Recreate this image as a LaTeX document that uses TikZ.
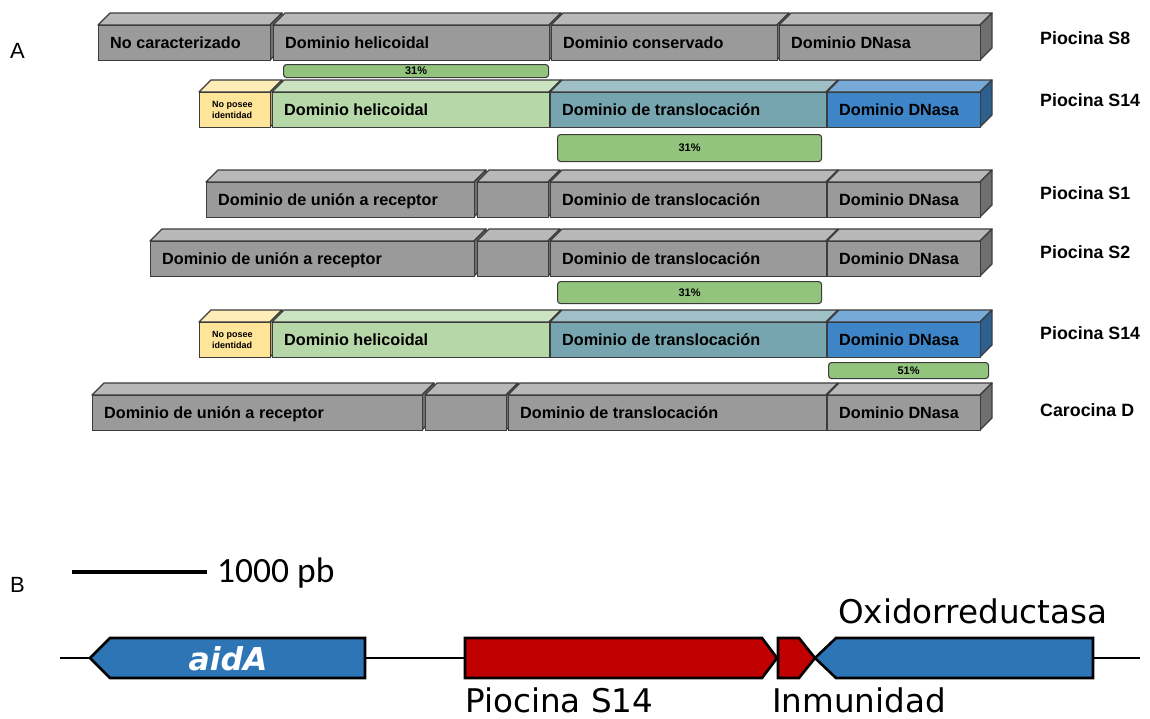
\documentclass[tikz,border=0pt]{standalone}
\usepackage{fontspec}
\setmainfont{Liberation Sans}
\newfontfamily\genfont{DejaVu Sans}
\newfontfamily\escfont{Carlito}
\usetikzlibrary{positioning}

\definecolor{borde}{HTML}{3C3C3C}
\definecolor{gris}{HTML}{9A9A9A}
\definecolor{amarillo}{HTML}{FFE599}
\definecolor{verdeh}{HTML}{B6D7A8}
\definecolor{turquesa}{HTML}{76A5AF}
\definecolor{azuld}{HTML}{3D85C6}
\definecolor{verdeb}{HTML}{93C47D}
\definecolor{azulg}{HTML}{2E75B6}
\definecolor{rojog}{HTML}{C00000}

% cuboid domain: [text style], name, x left, x right, y top of front face, colour, text
\newcommand{\caja}[7][]{%
  \filldraw[#6!70!white, draw=borde, line width=1.3pt, line join=round]
    (#3,#5) -- (#3+12,#5-12) -- (#4+12,#5-12) -- (#4,#5) -- cycle;
  \filldraw[#6!72!black, draw=borde, line width=1.3pt, line join=round]
    (#4,#5) -- (#4+12,#5-12) -- (#4+12,#5+23) -- (#4,#5+35) -- cycle;
  \node[cara, fill=#6, minimum width={#4pt-#3pt}, anchor=north west] (#2) at (#3,#5) {};
  \node[etiq, anchor=west, #1] (#2t) at ([xshift=12pt]#2.west) {#7};
}

\begin{document}
\begin{tikzpicture}[x=1pt,y=-1pt,
  cara/.style={draw=borde, line width=1.3pt, minimum height=35pt, inner sep=0pt},
  etiq/.style={inner sep=0pt, align=left, text=black, text height=11.6pt, text depth=0pt,
    font=\fontsize{16.2}{19}\selectfont\bfseries},
  chica/.style={xshift=1pt, text height=, text depth=, font=\fontsize{9}{11}\selectfont\bfseries},
  barra/.style={draw=borde, fill=verdeb, line width=1.1pt, rounded corners=3pt, inner sep=0pt,
    anchor=north west, font=\fontsize{11}{13}\selectfont\bfseries},
  nombre/.style={anchor=west, inner sep=0pt, font=\fontsize{17.8}{20}\selectfont\bfseries},
  gen/.style={draw=black, line width=2.6pt, line join=miter},
  rotulo/.style={anchor=base west, inner sep=0pt, font=\genfont\fontsize{32.6}{37}\selectfont}]
\useasboundingbox (0,0) rectangle (1150,718);

% panel A
\node[anchor=base west, inner sep=0pt, font=\fontsize{22}{26}\selectfont] (letA) at (10,58) {A};

\caja{s8a}{98}{270}{25}{gris}{No caracterizado}
\caja{s8b}{273}{549}{25}{gris}{Dominio helicoidal}
\caja{s8c}{551}{777}{25}{gris}{Dominio conservado}
\caja{s8d}{779}{980}{25}{gris}{Dominio DNasa}
\node[nombre] (ps8) at (1040,38) {Piocina S8};

\node[barra, minimum width=265pt, minimum height=13pt] (bar1) at (283,64) {31\%};

\caja[chica]{s14a}{199}{270}{92}{amarillo}{No posee\\identidad}
\caja{s14b}{272}{549}{92}{verdeh}{Dominio helicoidal}
\caja{s14c}{550}{826}{92}{turquesa}{Dominio de translocación}
\caja{s14d}{827}{980}{92}{azuld}{Dominio DNasa}
\node[nombre] (ps14) at (1040,100) {Piocina S14};

\node[barra, minimum width=264pt, minimum height=27pt] (bar2) at (557,134) {31\%};

\caja{s1a}{206}{474}{182}{gris}{Dominio de unión a receptor}
\caja{s1b}{477}{548}{182}{gris}{}
\caja{s1c}{550}{826}{182}{gris}{Dominio de translocación}
\caja{s1d}{827}{980}{182}{gris}{Dominio DNasa}
\node[nombre] (ps1) at (1040,193) {Piocina S1};

\caja{s2a}{150}{474}{241}{gris}{Dominio de unión a receptor}
\caja{s2b}{477}{548}{241}{gris}{}
\caja{s2c}{550}{826}{241}{gris}{Dominio de translocación}
\caja{s2d}{827}{980}{241}{gris}{Dominio DNasa}
\node[nombre] (ps2) at (1040,252) {Piocina S2};

\node[barra, minimum width=264pt, minimum height=22pt] (bar3) at (557,281) {31\%};

\caja[chica]{t14a}{199}{270}{322}{amarillo}{No posee\\identidad}
\caja{t14b}{272}{549}{322}{verdeh}{Dominio helicoidal}
\caja{t14c}{550}{826}{322}{turquesa}{Dominio de translocación}
\caja{t14d}{827}{980}{322}{azuld}{Dominio DNasa}
\node[nombre] (pt14) at (1040,333) {Piocina S14};

\node[barra, minimum width=160pt, minimum height=16pt] (bar4) at (828,362) {51\%};

\caja{cda}{92}{422}{395}{gris}{Dominio de unión a receptor}
\caja{cdb}{425}{506}{395}{gris}{}
\caja{cdc}{508}{826}{395}{gris}{Dominio de translocación}
\caja{cdd}{827}{980}{395}{gris}{Dominio DNasa}
\node[nombre] (pcd) at (1040,410) {Carocina D};

% panel B
\node[anchor=base west, inner sep=0pt, font=\fontsize{22}{26}\selectfont] (letB) at (10,592) {B};
\draw[line width=4pt] (72,572) -- (207,572);
\node[anchor=base west, inner sep=0pt, font=\escfont\fontsize{35.5}{40}\selectfont] (esc) at (217,582) {1000 pb};

\draw[line width=2.6pt] (60,658) -- (1140,658);
\filldraw[gen, fill=azulg] (365,638) -- (110,638) -- (90,658) -- (110,678) -- (365,678) -- cycle;
\filldraw[gen, fill=rojog] (465,638) -- (762,638) -- (777,658) -- (762,678) -- (465,678) -- cycle;
\filldraw[gen, fill=rojog] (778,638) -- (799,638) -- (815,658) -- (799,678) -- (778,678) -- cycle;
\filldraw[gen, fill=azulg] (1093,638) -- (836,638) -- (815,658) -- (836,678) -- (1093,678) -- cycle;

\node[inner sep=0pt, text=white, font=\genfont\fontsize{31.5}{36}\selectfont\bfseries\itshape] (aid) at (228,659) {aidA};
\node[rotulo] (lpio) at (465,712) {Piocina S14};
\node[rotulo] (linm) at (772,712) {Inmunidad};
\node[rotulo] (loxi) at (838,623) {Oxidorreductasa};
\end{tikzpicture}
\end{document}
